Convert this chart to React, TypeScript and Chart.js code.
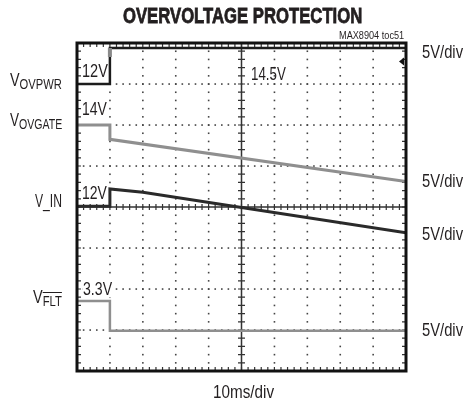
import React, { useEffect, useRef } from "react";
import { Chart, registerables } from "chart.js";

Chart.register(...registerables);

// time axis in ms (10 ms/div), vertical axis in screen divisions (0..8)
const timeMs = [0, 10, 10, 100];
const vinTimeMs = [0, 10, 10, 20, 50, 100];

const ovpwrDiv = [7.0, 7.0, 7.88, 7.88];
const ovgateDiv = [6.0, 6.0, 5.65, 4.62];
const vinDiv = [4.02, 4.02, 4.44, 4.36, 3.99, 3.37];
const fltDiv = [1.71, 1.71, 0.98, 0.98];

const X_MIN = 0;
const X_MAX = 100;
const X_DIVS = 10;
const Y_MIN = 0;
const Y_MAX = 8;
const Y_DIVS = 8;

const toPts = (xs: number[], ys: number[]) => xs.map((x, i) => ({ x, y: ys[i] }));

const scopePlugin = {
  id: "scopeGrid",
  beforeDatasetsDraw(chart: any) {
    const { ctx, chartArea: a, scales } = chart;
    const xs = scales.x;
    const ys = scales.y;
    const xStep = (X_MAX - X_MIN) / X_DIVS;
    const yStep = (Y_MAX - Y_MIN) / Y_DIVS;
    ctx.save();
    ctx.fillStyle = "#444";
    // dotted grid lines
    for (let i = 1; i < X_DIVS; i++) {
      if (i === X_DIVS / 2) continue;
      const px = xs.getPixelForValue(X_MIN + i * xStep);
      for (let j = 1; j < Y_DIVS * 5; j++) {
        const py = ys.getPixelForValue(Y_MIN + (j * yStep) / 5);
        ctx.fillRect(px - 0.75, py - 0.75, 1.6, 1.6);
      }
    }
    for (let j = 1; j < Y_DIVS; j++) {
      if (j === Y_DIVS / 2) continue;
      const py = ys.getPixelForValue(Y_MIN + j * yStep);
      for (let i = 1; i < X_DIVS * 5; i++) {
        const px = xs.getPixelForValue(X_MIN + (i * xStep) / 5);
        ctx.fillRect(px - 0.75, py - 0.75, 1.6, 1.6);
      }
    }
    // center cross with ticks
    ctx.strokeStyle = "#333";
    ctx.lineWidth = 1.5;
    const cx = xs.getPixelForValue(X_MIN + (X_DIVS / 2) * xStep);
    const cy = ys.getPixelForValue(Y_MIN + (Y_DIVS / 2) * yStep);
    ctx.beginPath();
    ctx.moveTo(cx, a.top);
    ctx.lineTo(cx, a.bottom);
    ctx.moveTo(a.left, cy);
    ctx.lineTo(a.right, cy);
    ctx.stroke();
    ctx.lineWidth = 1.2;
    ctx.beginPath();
    for (let j = 1; j < Y_DIVS * 5; j++) {
      const py = ys.getPixelForValue(Y_MIN + (j * yStep) / 5);
      ctx.moveTo(cx - 3.5, py);
      ctx.lineTo(cx + 3.5, py);
      ctx.moveTo(a.left, py);
      ctx.lineTo(a.left + 4, py);
      ctx.moveTo(a.right, py);
      ctx.lineTo(a.right - 4, py);
    }
    for (let i = 1; i < X_DIVS * 5; i++) {
      const px = xs.getPixelForValue(X_MIN + (i * xStep) / 5);
      ctx.moveTo(px, cy - 3);
      ctx.lineTo(px, cy + 3);
      ctx.moveTo(px, a.top);
      ctx.lineTo(px, a.top + 4);
      ctx.moveTo(px, a.bottom);
      ctx.lineTo(px, a.bottom - 4);
    }
    ctx.stroke();
    ctx.restore();
  },
  afterDatasetsDraw(chart: any) {
    const { ctx, chartArea: a, scales } = chart;
    ctx.save();
    ctx.strokeStyle = "#111";
    ctx.lineWidth = 3;
    ctx.strokeRect(a.left, a.top, a.right - a.left, a.bottom - a.top);
    const tx = scales.x.getPixelForValue(timeMs[1]);
    ctx.fillStyle = "#8a8a8a";
    ctx.fillRect(tx - 2, a.top + 5, 4, 9);
    const ty = scales.y.getPixelForValue(7.55);
    ctx.fillStyle = "#111";
    ctx.beginPath();
    ctx.moveTo(a.right - 7, ty);
    ctx.lineTo(a.right - 2, ty - 4);
    ctx.lineTo(a.right - 2, ty + 4);
    ctx.closePath();
    ctx.fill();
    ctx.restore();
  },
};

const FONT = '"Liberation Sans", Arial, sans-serif';
const INK = "#231f20";

type LabelProps = {
  x0: number;
  x1: number;
  cy: number;
  size: number;
  bold?: boolean;
  bg?: boolean;
  heavy?: boolean;
  children: React.ReactNode;
};

function Label({ x0, x1, cy, size, bold, bg, heavy, children }: LabelProps) {
  return (
    <div
      data-fit={x1 - x0}
      style={{
        position: "absolute",
        left: x0,
        top: cy,
        fontFamily: FONT,
        fontSize: size,
        fontWeight: bold ? 700 : 400,
        lineHeight: 1,
        whiteSpace: "nowrap",
        color: INK,
        background: bg ? "#fff" : "transparent",
        transformOrigin: "left center",
        transform: "translateY(-50%)",
        WebkitTextStroke: heavy ? "0.8px " + INK : undefined,
      }}
    >
      {children}
    </div>
  );
}

const subStyle: React.CSSProperties = { fontSize: 14, position: "relative", top: 3 };

export default function App() {
  const canvasRef = useRef<HTMLCanvasElement | null>(null);
  const rootRef = useRef<HTMLDivElement | null>(null);

  useEffect(() => {
    const canvas = canvasRef.current;
    if (!canvas) return;
    const chart = new Chart(canvas, {
      type: "line",
      data: {
        datasets: [
          {
            label: "VOVPWR",
            data: toPts(timeMs, ovpwrDiv),
            borderColor: "#1c1c1c",
            borderWidth: 2.5,
            pointRadius: 0,
            tension: 0,
          },
          {
            label: "VOVGATE",
            data: toPts(timeMs, ovgateDiv),
            borderColor: "#8f8f8f",
            borderWidth: 3,
            pointRadius: 0,
            tension: 0,
          },
          {
            label: "V_IN",
            data: toPts(vinTimeMs, vinDiv),
            borderColor: "#2a2a2a",
            borderWidth: 3,
            pointRadius: 0,
            tension: 0,
          },
          {
            label: "VFLT",
            data: toPts(timeMs, fltDiv),
            borderColor: "#8f8f8f",
            borderWidth: 2.5,
            pointRadius: 0,
            tension: 0,
          },
        ],
      },
      options: {
        animation: false,
        responsive: false,
        devicePixelRatio: 1,
        layout: { padding: { left: 77, top: 43, right: 60, bottom: 36 } },
        plugins: { legend: { display: false }, tooltip: { enabled: false } },
        scales: {
          x: { type: "linear", min: X_MIN, max: X_MAX, display: false },
          y: { type: "linear", min: Y_MIN, max: Y_MAX, display: false },
        },
      },
      plugins: [scopePlugin],
    });

    const root = rootRef.current;
    if (root) {
      root.querySelectorAll<HTMLElement>("[data-fit]").forEach((el) => {
        const target = Number(el.dataset.fit);
        const w = el.offsetWidth;
        if (w > 0) el.style.transform = `translateY(-50%) scaleX(${target / w})`;
      });
    }
    return () => chart.destroy();
  }, []);

  return (
    <div
      ref={rootRef}
      style={{ position: "absolute", left: 0, top: 0, width: 466, height: 407, background: "#fff", overflow: "hidden" }}
    >
      <canvas ref={canvasRef} width={466} height={407} style={{ position: "absolute", left: 0, top: 0 }} />
      <Label x0={123} x1={362} cy={16} size={22} bold heavy>
        OVERVOLTAGE PROTECTION
      </Label>
      <Label x0={339} x1={404} cy={36} size={10}>
        MAX8904 toc51
      </Label>
      <Label x0={422} x1={463} cy={52} size={18}>5V/div</Label>
      <Label x0={422} x1={463} cy={181} size={18}>5V/div</Label>
      <Label x0={422} x1={463} cy={234} size={18}>5V/div</Label>
      <Label x0={422} x1={463} cy={330} size={18}>5V/div</Label>
      <Label x0={82} x1={108} cy={70} size={19}>12V</Label>
      <Label x0={251} x1={286} cy={72.5} size={19}>14.5V</Label>
      <Label x0={82} x1={107} cy={108} size={19}>14V</Label>
      <Label x0={82} x1={107} cy={192} size={19}>12V</Label>
      <Label x0={83} x1={112} cy={288} size={19} bg>3.3V</Label>
      <Label x0={213} x1={274} cy={392} size={18}>10ms/div</Label>
      <Label x0={10} x1={62} cy={80} size={18}>
        V<span style={subStyle}>OVPWR</span>
      </Label>
      <Label x0={10} x1={62} cy={120} size={18}>
        V<span style={subStyle}>OVGATE</span>
      </Label>
      <Label x0={35} x1={62} cy={201} size={18}>V_IN</Label>
      <Label x0={33} x1={62} cy={297} size={18}>
        V<span style={{ ...subStyle, textDecoration: "overline" }}>FLT</span>
      </Label>
    </div>
  );
}
